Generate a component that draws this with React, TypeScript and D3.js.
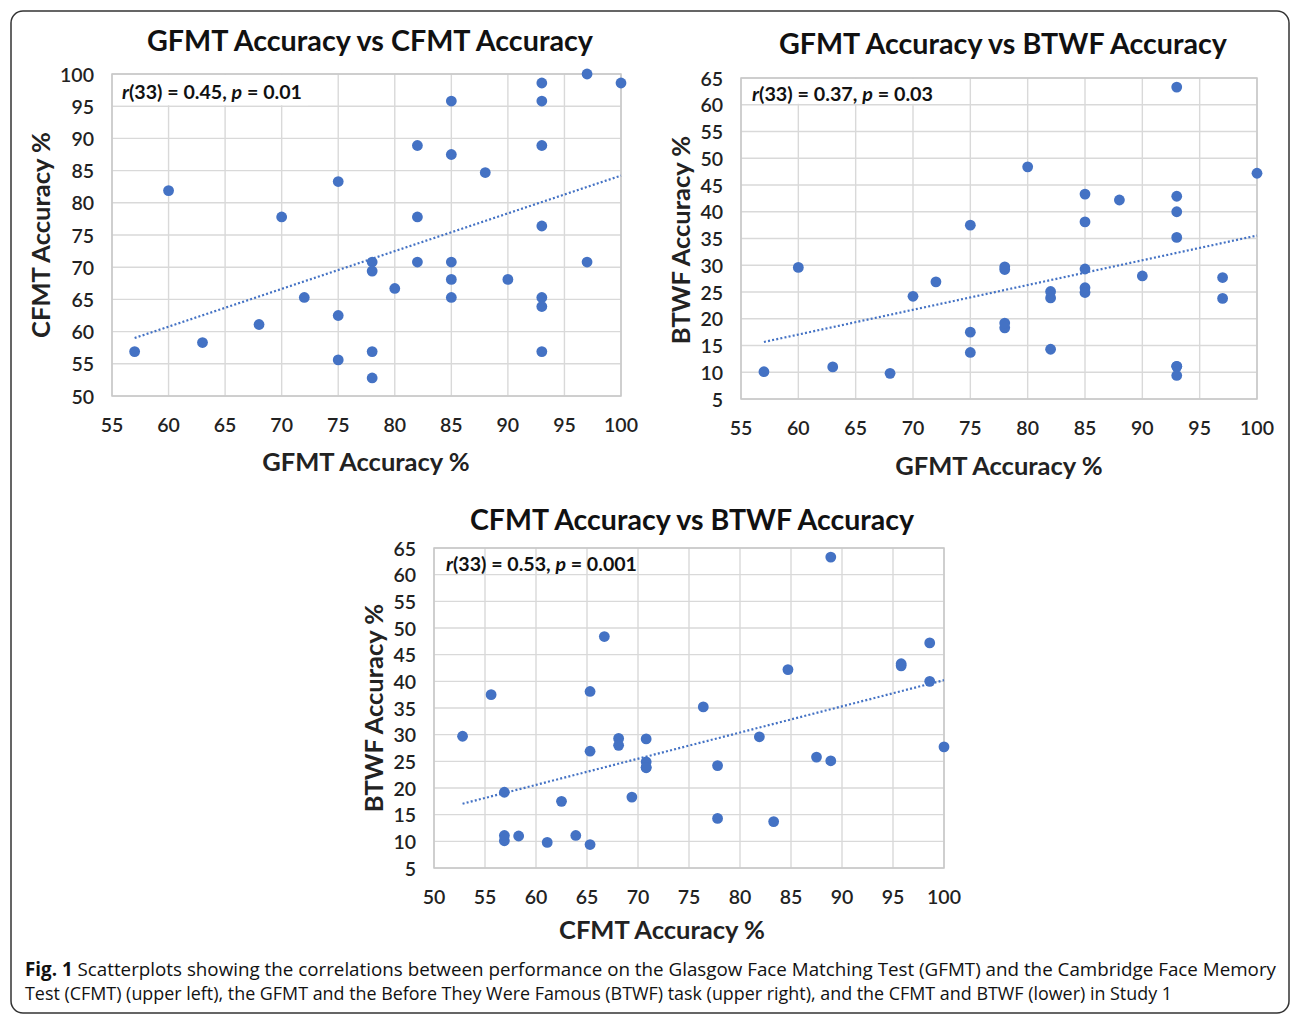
import React from 'react';
import * as d3 from 'd3';

// one entry per participant (Study 1)
const gfmt = [57, 60, 63, 68, 70, 72, 75, 75, 75, 78, 78, 78, 78, 80, 82, 82, 82, 85, 85, 85, 85, 85, 88, 90, 93, 93, 93, 93, 93, 93, 93, 97, 97, 100];
const cfmt = [56.9, 81.9, 58.3, 61.1, 77.8, 65.3, 83.3, 62.5, 55.6, 70.8, 69.4, 56.9, 52.8, 66.7, 88.9, 77.8, 70.8, 95.8, 87.5, 70.8, 68.1, 65.3, 84.7, 68.1, 98.6, 95.8, 88.9, 76.4, 65.3, 63.9, 56.9, 100, 70.8, 98.6];
const btwf = [10.1, 29.6, 11.0, 9.8, 24.2, 26.9, 13.7, 17.5, 37.5, 29.2, 18.3, 19.2, 29.7, 48.4, 25.1, 14.3, 23.9, 43.3, 25.8, 24.9, 29.3, 38.1, 42.2, 28.0, 40.0, 42.9, 63.3, 35.2, 9.4, 11.1, 11.1, 27.7, 23.8, 47.2];

const gfmtTicks = [55, 60, 65, 70, 75, 80, 85, 90, 95, 100];
const cfmtTicks = [50, 55, 60, 65, 70, 75, 80, 85, 90, 95, 100];
const btwfTicks = [5, 10, 15, 20, 25, 30, 35, 40, 45, 50, 55, 60, 65];

const titles = ['GFMT Accuracy vs CFMT Accuracy', 'GFMT Accuracy vs BTWF Accuracy', 'CFMT Accuracy vs BTWF Accuracy'];
const stats = [['0.45', '0.01'], ['0.37', '0.03'], ['0.53', '0.001']];

const BLUE = '#4472c4';
const GRID = '#d9d9d9';
const FONT = "Lato, 'Open Sans', sans-serif";

type Cfg = {
  left: number; right: number; top: number; bottom: number;
  xs: number[]; ys: number[]; xTicks: number[]; yTicks: number[];
  title: string; titleX: number; titleY: number; titleW: number;
  xLabel: string; xLabelX: number; xLabelY: number;
  yLabel: string; yLabelX: number; yLabelY: number;
  stat: string[]; statX: number; statY: number; statW: number; box: boolean;
};

const charts: Cfg[] = [
  {
    left: 112, right: 621, top: 74, bottom: 396,
    xs: gfmt, ys: cfmt, xTicks: gfmtTicks, yTicks: cfmtTicks,
    title: titles[0], titleX: 370, titleY: 40, titleW: 446,
    xLabel: 'GFMT Accuracy %', xLabelX: 366, xLabelY: 461,
    yLabel: 'CFMT Accuracy %', yLabelX: 40, yLabelY: 235,
    stat: stats[0], statX: 122, statY: 92, statW: 180, box: true,
  },
  {
    left: 741, right: 1257, top: 78, bottom: 399,
    xs: gfmt, ys: btwf, xTicks: gfmtTicks, yTicks: btwfTicks,
    title: titles[1], titleX: 1003, titleY: 43, titleW: 448,
    xLabel: 'GFMT Accuracy %', xLabelX: 999, xLabelY: 465,
    yLabel: 'BTWF Accuracy %', yLabelX: 680, yLabelY: 240,
    stat: stats[1], statX: 752, statY: 94, statW: 181, box: true,
  },
  {
    left: 434, right: 944, top: 548, bottom: 868,
    xs: cfmt, ys: btwf, xTicks: cfmtTicks, yTicks: btwfTicks,
    title: titles[2], titleX: 692, titleY: 519, titleW: 444,
    xLabel: 'CFMT Accuracy %', xLabelX: 662, xLabelY: 929,
    yLabel: 'BTWF Accuracy %', yLabelX: 373, yLabelY: 708,
    stat: stats[2], statX: 446, statY: 564, statW: 191, box: false,
  },
];

function Scatter({ c }: { c: Cfg }) {
  const x = d3.scaleLinear().domain(d3.extent(c.xTicks) as [number, number]).range([c.left, c.right]);
  const y = d3.scaleLinear().domain(d3.extent(c.yTicks) as [number, number]).range([c.bottom, c.top]);

  // least squares trend line, like Excel's linear trendline
  const mx = d3.mean(c.xs)!;
  const my = d3.mean(c.ys)!;
  const slope = d3.sum(c.xs, (v, i) => (v - mx) * (c.ys[i] - my)) / d3.sum(c.xs, v => (v - mx) ** 2);
  const [x0, x1] = d3.extent(c.xs) as [number, number];
  const trend = d3.line<number>().x(v => x(v)).y(v => y(my + slope * (v - mx)))([x0, x1]);

  const yMax = c.yTicks[c.yTicks.length - 1];
  const yNext = c.yTicks[c.yTicks.length - 2];

  return (
    <g fontFamily={FONT}>
      <text x={c.titleX - c.titleW / 2} y={c.titleY} dominantBaseline="central" fontSize={28} fontWeight={700} fill="#111" textLength={c.titleW} lengthAdjust="spacingAndGlyphs">{c.title}</text>
      {c.xTicks.map(t => (
        <line key={'gx' + t} x1={x(t)} x2={x(t)} y1={c.top} y2={c.bottom} stroke={GRID} strokeWidth={1.4} />
      ))}
      {c.yTicks.map(t => (
        <line key={'gy' + t} x1={c.left} x2={c.right} y1={y(t)} y2={y(t)} stroke={GRID} strokeWidth={1.4} />
      ))}
      <rect x={c.left} y={c.top} width={c.right - c.left} height={c.bottom - c.top} fill="none" stroke="#c8c8c8" strokeWidth={1.5} />
      {c.box && (
        <rect x={c.left + 1} y={y(yMax) + 1} width={c.statX + c.statW + 5 - c.left} height={y(yNext) - y(yMax) - 2} fill="#fff" />
      )}
      {c.xTicks.map(t => (
        <text key={'tx' + t} x={x(t)} y={c.bottom + 28} textAnchor="middle" dominantBaseline="central" fontSize={19.5} fontWeight={600} fill="#222">{t}</text>
      ))}
      {c.yTicks.map(t => (
        <text key={'ty' + t} x={c.left - 18} y={y(t)} textAnchor="end" dominantBaseline="central" fontSize={19.5} fontWeight={600} fill="#222">{t}</text>
      ))}
      <text x={c.xLabelX} y={c.xLabelY} textAnchor="middle" dominantBaseline="central" fontSize={25.5} fontWeight={700} fill="#222">{c.xLabel}</text>
      <text transform={`translate(${c.yLabelX},${c.yLabelY}) rotate(-90)`} textAnchor="middle" dominantBaseline="central" fontSize={25.5} fontWeight={700} fill="#222">{c.yLabel}</text>
      <path d={trend ?? ''} fill="none" stroke={BLUE} strokeWidth={2.2} strokeDasharray="2 2.2" />
      {c.xs.map((v, i) => (
        <circle key={'p' + i} cx={x(v)} cy={y(c.ys[i])} r={5.4} fill={BLUE} />
      ))}
      <text x={c.statX} y={c.statY} dominantBaseline="central" fontSize={18} fontWeight={700} fill="#111" textLength={c.statW} lengthAdjust="spacingAndGlyphs">
        <tspan fontStyle="italic">r</tspan>(33) = {c.stat[0]}, <tspan fontStyle="italic">p</tspan> = {c.stat[1]}
      </text>
    </g>
  );
}

export default function App() {
  return (
    <svg width={1292} height={1014} style={{ position: 'absolute', left: 0, top: 0, background: '#fff' }}>
      <rect x={0} y={0} width={1292} height={1014} fill="#fff" />
      <rect x={11} y={11} width={1278} height={1002} rx={12} fill="none" stroke="#333" strokeWidth={1.5} />
      {charts.map((c, i) => <Scatter key={i} c={c} />)}
      <g fontFamily="'Open Sans', sans-serif" fontSize={19} fill="#111">
        <text x={25} y={976} textLength={1251} lengthAdjust="spacingAndGlyphs">
          <tspan fontWeight={700}>Fig. 1</tspan> Scatterplots showing the correlations between performance on the Glasgow Face Matching Test (GFMT) and the Cambridge Face Memory
        </text>
        <text x={25} y={1000} textLength={1147} lengthAdjust="spacingAndGlyphs">
          Test (CFMT) (upper left), the GFMT and the Before They Were Famous (BTWF) task (upper right), and the CFMT and BTWF (lower) in Study 1
        </text>
      </g>
    </svg>
  );
}
